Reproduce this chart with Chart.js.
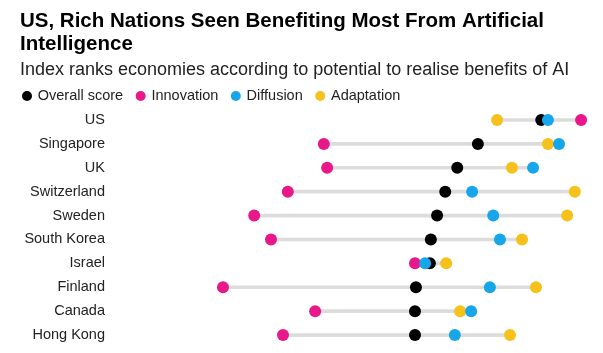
<!DOCTYPE html>
<html>
<head>
<meta charset="utf-8">
<script src="https://cdn.jsdelivr.net/npm/chart.js@4"></script>
<style>
  html, body { margin: 0; padding: 0; background: #fff; }
  #chart { display: block; }
</style>
</head>
<body>
<canvas id="chart" width="603" height="353"></canvas>
<script>
(() => {
  // values (0-100 scale)
  const countries = ["US", "Singapore", "UK", "Switzerland", "Sweden", "South Korea", "Israel", "Finland", "Canada", "Hong Kong"];
  const overall = [88.8, 75.6, 71.3, 68.8, 67.1, 65.8, 65.6, 62.7, 62.5, 62.5];
  const innovation = [97.1, 43.5, 44.2, 36.0, 29.0, 32.5, 62.5, 22.5, 41.7, 35.0];
  const diffusion = [90.2, 92.5, 87.1, 74.4, 78.8, 80.2, 64.6, 78.1, 74.2, 70.8];
  const adaptation = [79.6, 90.2, 82.7, 95.8, 94.2, 84.8, 69.0, 87.7, 71.9, 82.3];

  const font = "'Liberation Sans', Arial, Helvetica, sans-serif";

  // grey connector from lowest to highest score of each economy
  const ranges = countries.map((_, i) => {
    const v = [overall[i], innovation[i], diffusion[i], adaptation[i]];
    return [Math.min(...v), Math.max(...v)];
  });

  const dots = (label, data, color, order) => ({
    type: "line",
    label,
    data,
    indexAxis: "y",
    showLine: false,
    pointRadius: 6,
    pointHoverRadius: 6,
    pointBorderWidth: 0,
    borderWidth: 0,
    pointBackgroundColor: color,
    backgroundColor: color,
    borderColor: color,
    order
  });

  // shift legend so its first dot sits under the title start
  const legendNudge = {
    id: "legendNudge",
    afterLayout(chart) {
      chart.legend.left -= 10.5;
    }
  };

  new Chart(document.getElementById("chart"), {
    type: "bar",
    data: {
      labels: countries,
      datasets: [
        dots("Overall score", overall, "#000000", 4),
        dots("Innovation", innovation, "#e8178a", 3),
        dots("Diffusion", diffusion, "#18a6ea", 1),
        dots("Adaptation", adaptation, "#f6c11b", 2),
        {
          type: "bar",
          label: "range",
          data: ranges,
          backgroundColor: "#dcdcdc",
          barThickness: 3,
          borderWidth: 0,
          order: 5
        }
      ]
    },
    options: {
      indexAxis: "y",
      responsive: false,
      animation: false,
      layout: { padding: { left: 20, right: 8, top: 0, bottom: 3 } },
      scales: {
        x: { type: "linear", min: 0, max: 100, display: false },
        y: {
          type: "category",
          grid: { display: false, drawTicks: false },
          border: { display: false },
          ticks: { padding: 10, color: "#222", font: { family: font, size: 14.5 } },
          afterFit(scale) {
            scale.width = 95;
            scale.paddingTop = 0;
            scale.paddingBottom = 0;
          }
        }
      },
      plugins: {
        tooltip: { enabled: false },
        title: {
          display: true,
          align: "start",
          text: ["US, Rich Nations Seen Benefiting Most From Artificial", "Intelligence"],
          color: "#000",
          font: { family: font, size: 20.5, weight: "bold", lineHeight: 1.14 },
          padding: { top: 9.5, bottom: 0 }
        },
        subtitle: {
          display: true,
          align: "start",
          text: "Index ranks economies according to potential to realise benefits of AI",
          color: "#222",
          font: { family: font, size: 18, lineHeight: 1.2 },
          padding: { top: 2.8, bottom: -5.85 }
        },
        legend: {
          display: true,
          position: "top",
          align: "start",
          maxHeight: 33.25,
          labels: {
            usePointStyle: true,
            pointStyle: "circle",
            boxWidth: 7,
            boxHeight: 7.07,
            padding: 14,
            color: "#222",
            font: { family: font, size: 14.5 },
            filter: (item) => item.text !== "range",
            sort: (a, b) => a.datasetIndex - b.datasetIndex
          }
        }
      }
    },
    plugins: [legendNudge]
  });
})();
</script>
</body>
</html>
